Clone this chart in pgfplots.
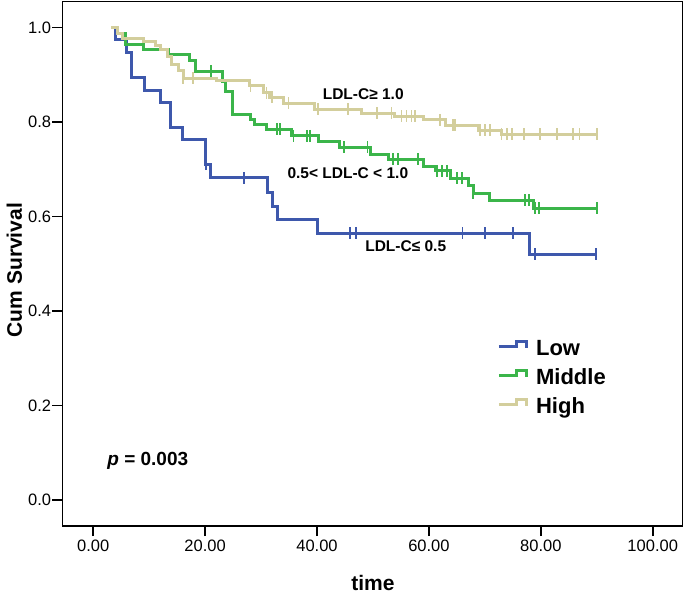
\documentclass[border=0pt]{standalone}
\usepackage{fontspec}
\setmainfont{Liberation Sans}
\usepackage{pgfplots}
\pgfplotsset{compat=1.18}

\definecolor{cLow}{HTML}{3E58AC}
\definecolor{cMid}{HTML}{3BB54A}
\definecolor{cHigh}{HTML}{D3CE9C}

\begin{document}
\begin{tikzpicture}
\path[use as bounding box] (0pt,0pt) rectangle (685pt,595pt);
\begin{axis}[
    at={(62.3pt,69pt)}, anchor=south west,
    scale only axis,
    width=620.4pt, height=524.3pt,
    xmin=-5.52, xmax=105.36,
    ymin=-0.055, ymax=1.055,
    axis line style={line width=1.2pt},
    tick align=outside,
    major tick length=10pt,
    tick style={line width=1.6pt, black},
    xtick pos=left, ytick pos=left,
    xtick={0,20,40,60,80,100},
    xticklabels={0.00,20.00,40.00,60.00,80.00,100.00},
    ytick={0,0.2,0.4,0.6,0.8,1.0},
    yticklabels={0.0,0.2,0.4,0.6,0.8,1.0},
    ticklabel style={font=\fontsize{16.5}{19}\selectfont},
    xticklabel style={inner xsep=1pt, inner ysep=4pt},
    yticklabel style={inner sep=1pt},
    xlabel={time},
    ylabel={Cum Survival},
    label style={font=\fontsize{21}{24}\selectfont\bfseries, inner sep=0pt},
    xlabel style={at={(axis description cs:0.5008,-0.1221)}, anchor=base},
    ylabel style={at={(axis description cs:-0.065,0.488)}, anchor=base},
    legend cell align=left,
    legend style={draw=none, fill=none, inner sep=0pt,
        at={(axis description cs:0.701,0.3560)}, anchor=north west,
        font=\fontsize{22}{25}\selectfont\bfseries,
        nodes={inner sep=0pt, text height=16pt, text depth=5pt},
        row sep=8pt, column sep=8pt},
    legend image code/.code={\draw[#1, mark=none] (0pt,3.3pt) -- (17.7pt,3.3pt) -- (17.7pt,8.3pt) -- (27.7pt,8.3pt) -- (27.7pt,1.6pt);},
    clip=false,
]
% Low
\addplot[const plot, cLow, line width=3pt] coordinates {
 (3.2,1.000) (3.9,0.974) (6.0,0.947) (6.9,0.895) (9.1,0.868) (12.0,0.842)
 (13.9,0.789) (16.0,0.763) (20.0,0.711) (21.0,0.682) (31.1,0.652) (32.1,0.622)
 (33.0,0.593) (40.1,0.565) (77.9,0.520) (89.9,0.520)
};
\addlegendentry{Low}
% Middle
\addplot[const plot, cMid, line width=3pt] coordinates {
 (3.2,1.000) (4.4,0.988) (5.7,0.965) (9.0,0.954) (13.5,0.943) (17.2,0.931)
 (18.2,0.908) (23.2,0.887) (23.7,0.864) (24.9,0.817) (28.2,0.805) (28.9,0.794)
 (31.0,0.785) (35.5,0.771) (40.2,0.759) (44.1,0.747) (49.5,0.732) (52.7,0.721)
 (59.0,0.707) (61.1,0.697) (63.9,0.681) (67.0,0.665) (67.9,0.649) (70.9,0.635)
 (78.7,0.618) (90.0,0.618)
};
\addlegendentry{Middle}
% High
\addplot[const plot, cHigh, line width=3pt] coordinates {
 (3.2,1.000) (4.3,0.988) (5.3,0.978) (9.0,0.970) (11.1,0.963) (12.0,0.954)
 (13.2,0.940) (14.0,0.921) (15.2,0.909) (16.1,0.893) (22.1,0.888) (28.0,0.877)
 (30.4,0.862) (31.5,0.853) (34.0,0.840) (39.6,0.827) (48.0,0.819) (53.9,0.812)
 (59.0,0.805) (63.0,0.793) (68.8,0.783) (73.0,0.774) (90.0,0.774)
};
\addlegendentry{High}

% censored cases
\addplot[forget plot, only marks, mark=|, mark size=6pt, cLow, mark options={line width=1.7pt}] coordinates {
 (20.2,0.711) (27.0,0.682) (45.9,0.565) (47.0,0.565) (66.0,0.565) (70.0,0.565)
 (75.0,0.565) (78.9,0.520) (89.9,0.520)
};
\addplot[forget plot, only marks, mark=|, mark size=6pt, cMid, mark options={line width=1.7pt}] coordinates {
 (21.1,0.908) (32.8,0.785) (33.4,0.785) (35.8,0.771) (38.2,0.771) (38.7,0.771)
 (44.8,0.747) (49.0,0.747) (53.6,0.721) (54.5,0.721) (58.1,0.721) (61.4,0.697)
 (62.3,0.697) (63.2,0.697) (65.0,0.681) (65.9,0.681) (67.9,0.649) (77.2,0.635)
 (77.9,0.635) (79.0,0.618) (79.7,0.618) (90.0,0.618)
};
\addplot[forget plot, only marks, mark=|, mark size=6pt, cHigh, mark options={line width=1.7pt}] coordinates {
 (16.1,0.893) (17.9,0.893) (28.1,0.877) (31.0,0.862) (31.9,0.853) (34.9,0.840)
 (40.2,0.827) (45.6,0.827) (50.7,0.819) (53.3,0.819) (55.1,0.812) (56.0,0.812)
 (56.9,0.812) (57.5,0.812) (62.0,0.805) (64.3,0.793) (64.7,0.793) (69.1,0.783)
 (70.0,0.783) (70.9,0.783) (73.0,0.774) (73.9,0.774) (74.8,0.774) (77.0,0.774)
 (79.9,0.774) (82.9,0.774) (85.8,0.774) (86.9,0.774) (90.0,0.774)
};

\node[anchor=base west, inner sep=0pt, font=\fontsize{15.5}{18}\selectfont\bfseries] at (axis cs:41.0,0.847) {LDL-C≥ 1.0};
\node[anchor=base west, inner sep=0pt, font=\fontsize{15.5}{18}\selectfont\bfseries] at (axis cs:34.7,0.681) {0.5< LDL-C < 1.0};
\node[anchor=base west, inner sep=0pt, font=\fontsize{15.5}{18}\selectfont\bfseries] at (axis cs:48.6,0.527) {LDL-C≤ 0.5};
\node[anchor=base west, inner sep=0pt, font=\fontsize{19}{22}\selectfont\bfseries] at (axis cs:2.5,0.074) {\textit{p} = 0.003};
\end{axis}
\end{tikzpicture}
\end{document}
